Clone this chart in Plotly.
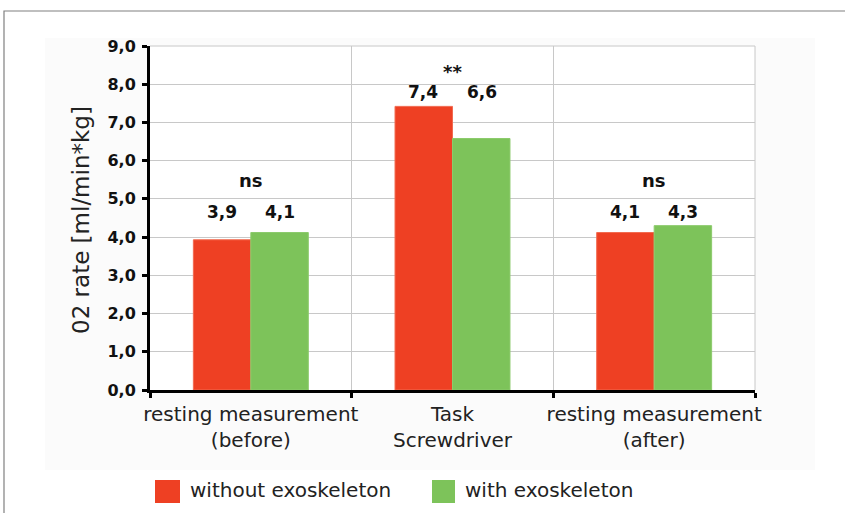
import plotly.graph_objects as go

categories = ["resting measurement<br>(before)", "Task<br>Screwdriver", "resting measurement<br>(after)"]
without_exo = [3.93, 7.42, 4.12]
with_exo = [4.12, 6.58, 4.30]
without_labels = ["3,9", "7,4", "4,1"]
with_labels = ["4,1", "6,6", "4,3"]
significance = ["ns", "**", "ns"]
label_y = [4.66, 7.8, 4.66]
sig_y = [5.47, 8.32, 5.47]
series_names = ["without exoskeleton", "with exoskeleton"]
y_title = "02 rate [ml/min*kg]"
colors = ["#EE4023", "#7DC35A"]

FONT = "DejaVu Sans"

fig = go.Figure()
fig.add_trace(go.Bar(x=categories, y=without_exo, name=series_names[0],
                     marker=dict(color=colors[0], line=dict(color="#F26A50", width=1)),
                     showlegend=False, hoverinfo="skip"))
fig.add_trace(go.Bar(x=categories, y=with_exo, name=series_names[1],
                     marker=dict(color=colors[1], line=dict(color="#8CCB6C", width=1)),
                     showlegend=False, hoverinfo="skip"))

# value labels above bars (offset within category)
for i, c in enumerate(categories):
    fig.add_annotation(x=i - 0.145, y=label_y[i], xref="x", yref="y", text="<b>%s</b>" % without_labels[i],
                       showarrow=False, font=dict(family=FONT, size=17, color="#111"))
    fig.add_annotation(x=i + 0.145, y=label_y[i], xref="x", yref="y", text="<b>%s</b>" % with_labels[i],
                       showarrow=False, font=dict(family=FONT, size=17, color="#111"))
    fig.add_annotation(x=i, y=sig_y[i], xref="x", yref="y", text="<b>%s</b>" % significance[i],
                       showarrow=False, font=dict(family=FONT, size=18, color="#111"))

W, H = 845, 513
ml, mr, mt, mb = 150, 90, 46, 123
pw, ph = W - ml - mr, H - mt - mb
def px(x):
    return (x - ml) / pw
def py(y):
    return (H - mb - y) / ph

# y-axis title
fig.add_annotation(xref="paper", yref="paper", x=px(81), y=py(220), text=y_title, textangle=-90,
                   showarrow=False, xanchor="center", yanchor="middle",
                   font=dict(family=FONT, size=23, color="#222"))

# legend (drawn manually to get large square swatches)
legend_items = [(155, 180, 188), (432, 455, 463)]
for (x0, x1, tx), name, col in zip(legend_items, series_names, colors):
    fig.add_shape(type="rect", xref="paper", yref="paper", x0=px(x0), x1=px(x1), y0=py(503), y1=py(480),
                  fillcolor=col, line=dict(width=0))
    fig.add_annotation(xref="paper", yref="paper", x=px(tx), y=py(490), text=name, showarrow=False,
                       xanchor="left", yanchor="middle", font=dict(family=FONT, size=20, color="#222"))

# faint panel behind chart, white plot area, and outer frame
fig.add_shape(type="rect", xref="paper", yref="paper", x0=px(45), x1=px(815), y0=py(470), y1=py(38),
              fillcolor="#fbfbfb", line=dict(width=0), layer="below")
fig.add_shape(type="rect", xref="paper", yref="paper", x0=0, x1=1, y0=0, y1=1,
              fillcolor="white", line=dict(width=0), layer="below")
fig.add_shape(type="rect", xref="paper", yref="paper", x0=px(4), x1=px(860), y0=py(530), y1=py(11),
              line=dict(color="#808080", width=1.2), layer="below")

fig.update_layout(
    width=W, height=H,
    margin=dict(l=ml, r=mr, t=mt, b=mb, autoexpand=False),
    barmode="group", bargap=0.43, bargroupgap=0,
    plot_bgcolor="white", paper_bgcolor="white",
    separators=",.",
    showlegend=False,
    font=dict(family=FONT, color="#222"),
)
fig.update_yaxes(range=[0, 9], dtick=1, tickformat=".1f", showgrid=True, gridcolor="#c8c8c8", gridwidth=1,
                 showline=True, linecolor="black", linewidth=3, ticks="outside", ticklen=5, tickwidth=3,
                 tickcolor="black", tickfont=dict(family=FONT, size=16, color="#111", weight="bold"),
                 ticklabelstandoff=3, mirror=False, zeroline=False, automargin=False)
fig.update_xaxes(tickson="boundaries", showgrid=True, gridcolor="#c8c8c8", gridwidth=1,
                 showline=True, linecolor="black", linewidth=3, ticks="outside", ticklen=5, tickwidth=3,
                 tickcolor="black", tickfont=dict(family=FONT, size=20, color="#222"),
                 ticklabelstandoff=4, tickangle=0, automargin=False)
# top and right light frame of plot area
fig.add_shape(type="line", xref="paper", yref="paper", x0=0, x1=1, y0=1, y1=1, line=dict(color="#c8c8c8", width=1))
fig.add_shape(type="line", xref="paper", yref="paper", x0=1, x1=1, y0=0, y1=1, line=dict(color="#c8c8c8", width=1))

fig.write_html("out.html", post_script="document.body.style.margin='0';",
               config={"displayModeBar": False, "staticPlot": True})
